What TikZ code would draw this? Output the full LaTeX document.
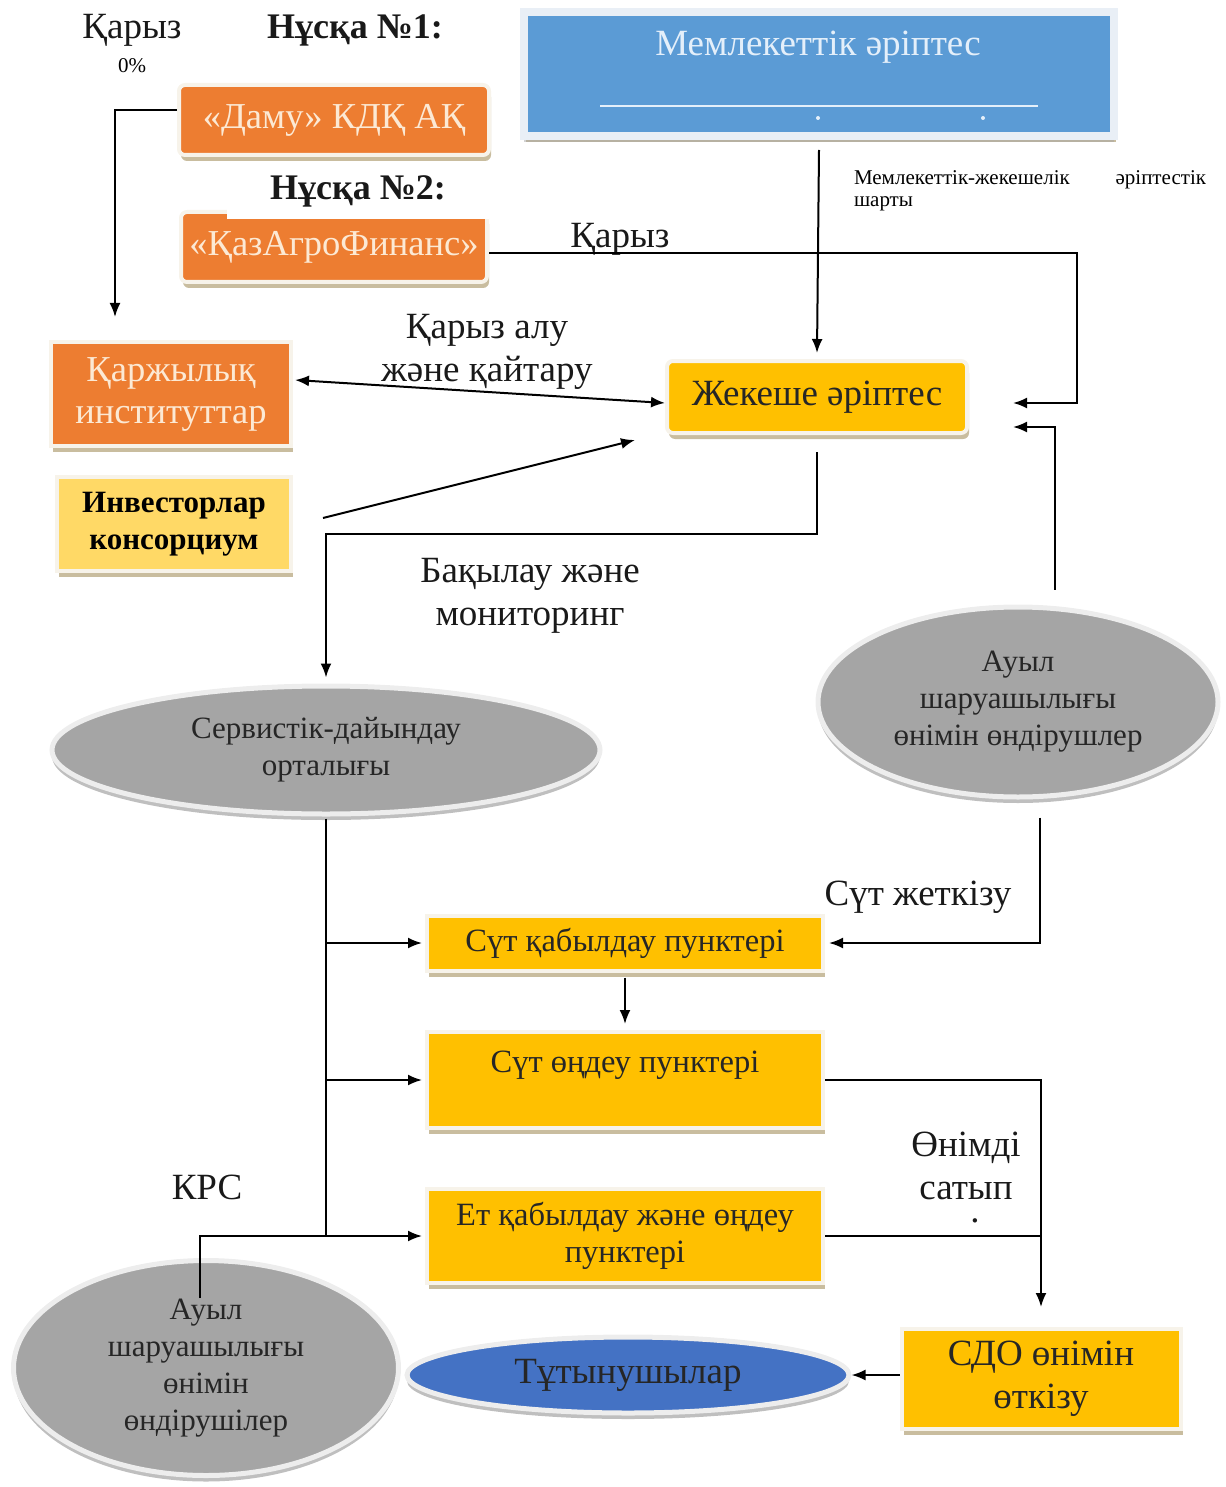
\documentclass[tikz,border=0pt]{standalone}
\usepackage{fontspec}
\setmainfont{Liberation Serif}
\usetikzlibrary{positioning,calc,shapes.geometric,shadows,arrows.meta}

\definecolor{orangefill}{HTML}{ED7D31}
\definecolor{goldfill}{HTML}{FFC000}
\definecolor{palegold}{HTML}{FFD966}
\definecolor{govblue}{HTML}{5B9BD5}
\definecolor{consblue}{HTML}{4472C4}
\definecolor{ovalgrey}{HTML}{A5A5A5}
\definecolor{creamtext}{HTML}{FCE9D4}
\definecolor{rimcol}{HTML}{F7F3EA}
\definecolor{shadecol}{HTML}{C9BD9F}
\definecolor{govtext}{HTML}{E4EFFA}
\definecolor{govrim}{HTML}{E9EFF6}

\newcommand{\lblfont}{\fontsize{37}{43}\selectfont}
\newcommand{\boxfont}{\fontsize{32.5}{37}\selectfont}
\newcommand{\ovalfont}{\fontsize{31}{37}\selectfont}
\newcommand{\notefont}{\fontsize{21}{22}\selectfont}

\begin{document}
\begin{tikzpicture}[
        x=1pt,y=-1pt,
        line width=2pt,
        arr/.style={-{Latex[length=14pt,width=11pt]}},
        darr/.style={{Latex[length=14pt,width=11pt]}-{Latex[length=14pt,width=11pt]}},
        box/.style={rectangle,draw=rimcol,line width=4pt,inner sep=4pt,align=center,
            drop shadow={shadow xshift=2pt,shadow yshift=-6pt,fill=shadecol,opacity=1}},
        orangebox/.style={box,fill=orangefill,text=creamtext,font=\fontsize{36.5}{42}\selectfont},
        goldbox/.style={box,fill=goldfill,text=black!85,font=\boxfont},
        oval/.style={ellipse,draw=white!93!black,line width=5pt,fill=ovalgrey,align=center,
            inner sep=0pt,font=\ovalfont,text=black!85,
            drop shadow={shadow xshift=0pt,shadow yshift=-6pt,fill=black!25,opacity=1}},
        lbl/.style={align=center,font=\lblfont,text=black!90,inner sep=0pt},
        varlbl/.style={lbl,font=\bfseries\fontsize{36}{40}\selectfont}
    ]
    \useasboundingbox (0,0) rectangle (1225,1487);

    \node[box,draw=govrim,line width=8pt,fill=govblue,minimum width=590,minimum height=124,
        drop shadow={shadow xshift=0pt,shadow yshift=-6pt,fill=black!35}] (gov) at (819,74) {};
    \node[lbl,text=govtext] (govname) at (818,47) {Мемлекеттік әріптес};
    \draw[govtext,line width=1.5pt] (600,106) -- (1038,106);
    \fill[govtext] (818,118) circle (2) (983,118) circle (2);

    \node[lbl] (loan) at (132,30) {Қарыз};
    \node[font=\notefont,inner sep=0pt] (pct) at (132,66) {0\%};
    \node[varlbl] (var1) at (355,30) {Нұсқа №1:};

    \node[orangebox,rounded corners=6pt,minimum width=310,minimum height=70] (damu) at (334,120) {«Даму» КДҚ АҚ};
    \node[orangebox,rounded corners=6pt,minimum width=306,minimum height=70] (kazagro) at (334,247) {«ҚазАгроФинанс»};
    \node[varlbl,fill=white,minimum width=262,minimum height=56] (var2) at (358,191) {Нұсқа №2:};

    \node[orangebox,minimum width=240,minimum height=104] (fin) at (171,394) {Қаржылық\\институттар};
    \node[box,fill=palegold,font=\bfseries\fontsize{31}{37}\selectfont,
        minimum width=234,minimum height=94] (inv) at (174,524) {Инвесторлар\\консорциум};
    \node[goldbox,font=\lblfont,rounded corners=6pt,minimum width=300,minimum height=72] (jek) at (817,397) {Жекеше әріптес};

    \node[oval,minimum width=548,minimum height=128] (serv) at (326,750) {Сервистік-дайындау\\орталығы};
    \node[oval,minimum width=400,minimum height=190] (farm) at (1018,702) {Ауыл\\шаруашылығы\\өнімін өндірушлер};
    \node[oval,minimum width=385,minimum height=215] (farm2) at (206,1368) {Ауыл\\шаруашылығы\\өнімін\\өндірушілер};
    \node[oval,fill=consblue,font=\lblfont,minimum width=442,minimum height=76] (cons) at (628,1375) {Тұтынушылар};

    \node[goldbox,minimum width=396,minimum height=55] (milkrec) at (625,943) {Сүт қабылдау пунктері};
    \node[goldbox,minimum width=396,minimum height=96] (milkproc) at (625,1080) {Сүт өңдеу пунктері\\~};
    \node[goldbox,minimum width=396,minimum height=94] (meatrec) at (625,1236) {Ет қабылдау және өңдеу\\пунктері};
    \node[goldbox,font=\lblfont,minimum width=279,minimum height=100] (sdo) at (1041,1379) {СДО өнімін\\өткізу};

    \node[lbl] (loanmid) at (620,239) {Қарыз};
    \node[lbl] (loanback) at (487,352) {Қарыз алу\\және қайтару};
    \node[lbl] (control) at (530,596) {Бақылау және\\мониторинг};
    \node[font=\notefont,align=left,text width=352,inner sep=0pt,anchor=west] (ppp) at (853,191)
        {Мемлекеттік-жекешелік\hfill әріптестік\\шарты};
    \node[lbl] (delivery) at (918,897) {Сүт жеткізу};
    \node[lbl] (sell) at (966,1177) {Өнімді\\сатып\\[-20pt]\hspace*{18pt}.};
    \node[lbl] (krs) at (207,1187) {КРС};

    \coordinate (inA) at ($(jek.east)+(44,6)$);
    \coordinate (inB) at ($(jek.east)+(44,30)$);

    \draw[arr] ($(gov.south)+(0,10)$) -- ($(jek.north)+(0,-6)$);
    \draw[arr] ($(kazagro.east)+(0,6)$) -| ($(inA)+(64,0)$) -- (inA);
    \draw[arr] ($(damu.west)+(0,-10)$) -| ($(fin.north)+(-56,-23)$);
    \draw[darr] ($(fin.east)+(2,-14)$) -- ($(jek.west)+(0,6)$);
    \draw[arr] ($(inv.east)+(30,-6)$) -- ($(jek.south west)+(-30,5)$);
    \draw[arr] ($(jek.south)+(0,17)$) |- ($(serv.north)+(0,-150)$) -- ($(serv.north)+(0,-6)$);
    \draw[arr] ($(farm.north)+(37,-15)$) |- (inB);
    \draw[arr] ($(farm.south)+(22,18)$) |- ($(milkrec.east)+(4,0)$);

    \draw ($(serv.south)+(0,2)$) -- (serv.south |- meatrec.west);
    \draw[arr] (serv.south |- milkrec.west) -- ($(milkrec.west)+(-3,0)$);
    \draw[arr] (serv.south |- milkproc.west) -- ($(milkproc.west)+(-3,0)$);
    \draw[arr] (serv.south |- meatrec.west) -- ($(meatrec.west)+(-3,0)$);
    \draw ($(farm2.north)+(-6,40)$) |- (serv.south |- meatrec.west);

    \draw[arr] ($(milkrec.south)+(0,5)$) -- ($(milkproc.north)+(0,-6)$);
    \draw[arr] (milkproc.east) -| ($(sdo.north)+(0,-20)$);
    \draw (meatrec.east) -- (meatrec.east -| sdo.north);
    \draw[arr] (sdo.west |- cons.east) -- (cons.east);
\end{tikzpicture}
\end{document}
